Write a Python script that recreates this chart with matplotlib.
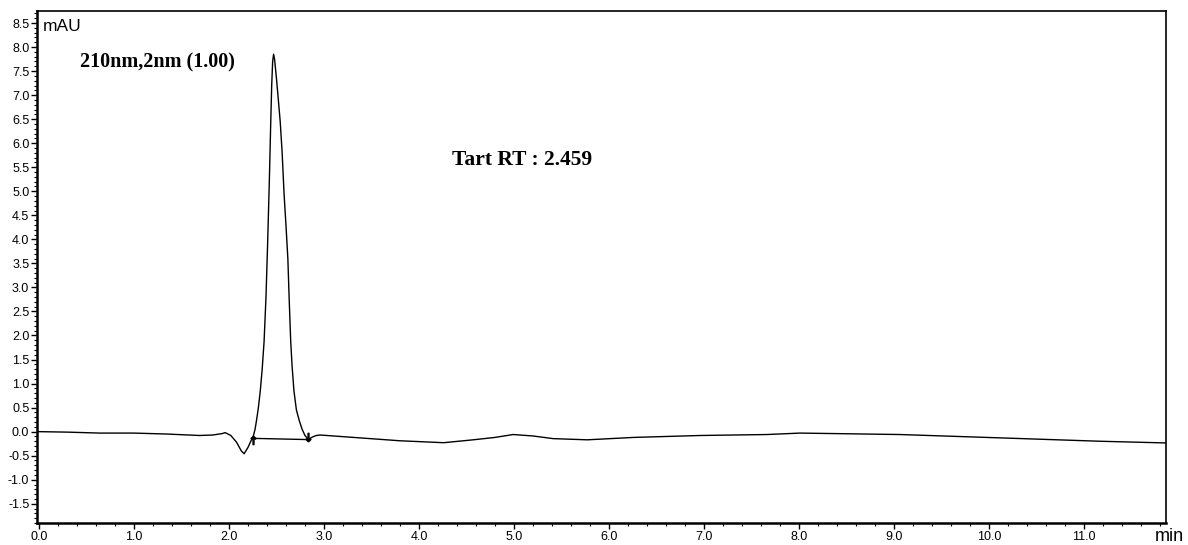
import matplotlib.pyplot as plt
from matplotlib.ticker import MultipleLocator, FormatStrFormatter

# Хроматограма, 210 нм: час (хв) і поглинання (mAU)
time_min = [0.00, 0.30, 0.64, 1.00, 1.35, 1.69, 1.83, 1.93, 1.96, 2.02, 2.08,
            2.13, 2.16, 2.20, 2.23, 2.256, 2.275, 2.29, 2.31, 2.33, 2.35,
            2.37, 2.39, 2.407, 2.425, 2.44, 2.45, 2.46, 2.47, 2.48, 2.50,
            2.52, 2.54, 2.56, 2.58, 2.60, 2.62, 2.635, 2.65, 2.665, 2.684,
            2.71, 2.74, 2.77, 2.80, 2.835, 2.88, 2.92, 2.96, 3.10, 3.38,
            3.80, 4.26, 4.57, 4.80, 4.99, 5.20, 5.41, 5.77, 6.26, 6.96,
            7.66, 8.01, 9.06, 10.12, 11.17, 11.86]
signal_mau = [0.00, -0.01, -0.03, -0.03, -0.05, -0.08, -0.07, -0.04, -0.02,
              -0.08, -0.22, -0.40, -0.46, -0.33, -0.20, -0.10, 0.05, 0.23,
              0.50, 0.85, 1.30, 1.88, 2.80, 3.90, 5.20, 6.44, 7.20, 7.70,
              7.85, 7.75, 7.35, 6.90, 6.44, 5.80, 4.95, 4.30, 3.60, 2.70,
              1.88, 1.35, 0.85, 0.45, 0.23, 0.05, -0.08, -0.16, -0.11, -0.08,
              -0.07, -0.09, -0.13, -0.19, -0.23, -0.17, -0.12, -0.06, -0.09,
              -0.145, -0.17, -0.12, -0.08, -0.06, -0.03, -0.06, -0.13, -0.20,
              -0.235]

# Базова лінія інтегрування піку
base_t = [2.256, 2.835]
base_y = [-0.14, -0.165]

fig = plt.figure(figsize=(11.88, 5.45), dpi=100)
ax = fig.add_axes([0.0311, 0.0404, 0.9504, 0.9394])

ax.plot(time_min, signal_mau, color='black', linewidth=1.0)
ax.plot(base_t, base_y, color='black', linewidth=1.0)
ax.plot(base_t[0], base_y[0] - 0.03, marker=r'$\uparrow$', color='black', markersize=6)
ax.plot(base_t[1], base_y[1] + 0.05, marker=r'$\downarrow$', color='black', markersize=6)

ax.set_xlim(-0.02, 11.86)
ax.set_ylim(-1.9, 8.75)

ax.xaxis.set_major_locator(MultipleLocator(1.0))
ax.xaxis.set_minor_locator(MultipleLocator(0.2))
ax.yaxis.set_major_locator(MultipleLocator(0.5))
ax.yaxis.set_minor_locator(MultipleLocator(0.1))
ax.xaxis.set_major_formatter(FormatStrFormatter('%.1f'))
ax.yaxis.set_major_formatter(FormatStrFormatter('%.1f'))

ax.tick_params(which='major', direction='out', length=4, width=1.0,
               labelsize=9, pad=1.5)
ax.tick_params(which='minor', direction='out', length=2.5, width=0.8)
for lab in ax.get_xticklabels() + ax.get_yticklabels():
    lab.set_family('Liberation Sans')

for side in ['top', 'right']:
    ax.spines[side].set_linewidth(1.2)
for side in ['left', 'bottom']:
    ax.spines[side].set_linewidth(1.8)

ax.text(0.005, 0.985, 'mAU', transform=ax.transAxes, ha='left', va='top',
        fontsize=12.5, family='Liberation Sans')
fig.text(0.972, 0.0, 'min', ha='left', va='bottom', fontsize=13,
         family='Liberation Sans')

ax.text(0.43, 7.68, '210nm,2nm (1.00)', ha='left', va='center',
        fontsize=14.5, fontweight='bold', family='Liberation Serif')
ax.text(4.35, 5.65, 'Tart RT : 2.459', ha='left', va='center',
        fontsize=15.5, fontweight='bold', family='Liberation Serif')

fig.savefig('out.png', dpi=100)
